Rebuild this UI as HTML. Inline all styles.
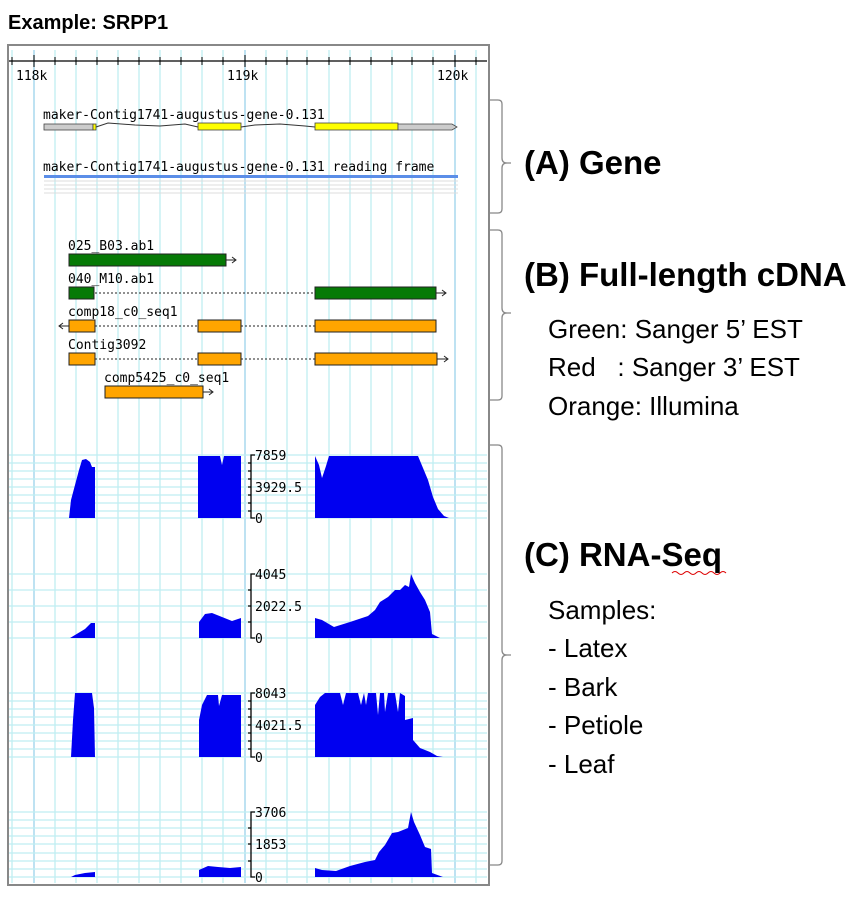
<!DOCTYPE html>
<html><head><meta charset="utf-8"><style>
body{margin:0;background:#fff;width:858px;height:902px;overflow:hidden}
svg{display:block}
.m{font-family:"DejaVu Sans Mono","Liberation Mono",monospace;font-size:13px;fill:#000}
.r{font-family:"Liberation Sans",sans-serif;fill:#000}
</style></head><body>
<svg width="858" height="902" viewBox="0 0 858 902" xmlns="http://www.w3.org/2000/svg">
<text x="8" y="29" class="r" font-size="20" font-weight="bold">Example: SRPP1</text>
<g id="vg" stroke="#bfeef2" stroke-width="1.3">
<line x1="12" y1="50" x2="12" y2="883"/><line x1="55" y1="50" x2="55" y2="883"/><line x1="76" y1="50" x2="76" y2="883"/><line x1="97" y1="50" x2="97" y2="883"/><line x1="118" y1="50" x2="118" y2="883"/><line x1="139" y1="50" x2="139" y2="883"/><line x1="160" y1="50" x2="160" y2="883"/><line x1="181" y1="50" x2="181" y2="883"/><line x1="202" y1="50" x2="202" y2="883"/><line x1="223" y1="50" x2="223" y2="883"/><line x1="266" y1="50" x2="266" y2="883"/><line x1="287" y1="50" x2="287" y2="883"/><line x1="307" y1="50" x2="307" y2="883"/><line x1="329" y1="50" x2="329" y2="883"/><line x1="350" y1="50" x2="350" y2="883"/><line x1="371" y1="50" x2="371" y2="883"/><line x1="392" y1="50" x2="392" y2="883"/><line x1="412" y1="50" x2="412" y2="883"/><line x1="433" y1="50" x2="433" y2="883"/><line x1="476" y1="50" x2="476" y2="883"/>
</g>
<g stroke="#a8d8ee" stroke-width="1.5"><line x1="34" y1="50" x2="34" y2="883"/><line x1="245" y1="50" x2="245" y2="883"/><line x1="455" y1="50" x2="455" y2="883"/></g>
<g stroke="#bfeef2" stroke-width="1.2">
<line x1="8" y1="455" x2="487" y2="455"/><line x1="8" y1="463" x2="487" y2="463"/><line x1="8" y1="471" x2="487" y2="471"/><line x1="8" y1="479" x2="487" y2="479"/><line x1="8" y1="487" x2="487" y2="487"/><line x1="8" y1="495" x2="487" y2="495"/><line x1="8" y1="503" x2="487" y2="503"/><line x1="8" y1="511" x2="487" y2="511"/><line x1="8" y1="518" x2="487" y2="518"/>
<line x1="8" y1="574" x2="487" y2="574"/><line x1="8" y1="590" x2="487" y2="590"/><line x1="8" y1="606" x2="487" y2="606"/><line x1="8" y1="622" x2="487" y2="622"/><line x1="8" y1="638" x2="487" y2="638"/>
<line x1="8" y1="693" x2="487" y2="693"/><line x1="8" y1="701" x2="487" y2="701"/><line x1="8" y1="709" x2="487" y2="709"/><line x1="8" y1="717" x2="487" y2="717"/><line x1="8" y1="725" x2="487" y2="725"/><line x1="8" y1="733" x2="487" y2="733"/><line x1="8" y1="741" x2="487" y2="741"/><line x1="8" y1="749" x2="487" y2="749"/><line x1="8" y1="757" x2="487" y2="757"/>
<line x1="8" y1="812" x2="487" y2="812"/><line x1="8" y1="820" x2="487" y2="820"/><line x1="8" y1="828" x2="487" y2="828"/><line x1="8" y1="836" x2="487" y2="836"/><line x1="8" y1="844" x2="487" y2="844"/><line x1="8" y1="853" x2="487" y2="853"/><line x1="8" y1="861" x2="487" y2="861"/><line x1="8" y1="869" x2="487" y2="869"/><line x1="8" y1="877" x2="487" y2="877"/>
</g>
<rect x="8" y="45" width="481" height="840" fill="none" stroke="#888" stroke-width="2"/>
<line x1="9" y1="61" x2="487" y2="61" stroke="#000" stroke-width="1.3"/>
<g stroke="#000" stroke-width="1">
<line x1="12" y1="57" x2="12" y2="65"/><line x1="34" y1="55" x2="34" y2="67"/><line x1="55" y1="57" x2="55" y2="65"/><line x1="76" y1="57" x2="76" y2="65"/><line x1="97" y1="57" x2="97" y2="65"/><line x1="118" y1="57" x2="118" y2="65"/><line x1="139" y1="57" x2="139" y2="65"/><line x1="160" y1="57" x2="160" y2="65"/><line x1="181" y1="57" x2="181" y2="65"/><line x1="202" y1="57" x2="202" y2="65"/><line x1="223" y1="57" x2="223" y2="65"/><line x1="245" y1="55" x2="245" y2="67"/><line x1="266" y1="57" x2="266" y2="65"/><line x1="287" y1="57" x2="287" y2="65"/><line x1="307" y1="57" x2="307" y2="65"/><line x1="329" y1="57" x2="329" y2="65"/><line x1="350" y1="57" x2="350" y2="65"/><line x1="371" y1="57" x2="371" y2="65"/><line x1="392" y1="57" x2="392" y2="65"/><line x1="412" y1="57" x2="412" y2="65"/><line x1="433" y1="57" x2="433" y2="65"/><line x1="455" y1="55" x2="455" y2="67"/><line x1="476" y1="57" x2="476" y2="65"/>
</g>
<text x="16" y="80" class="m" font-size="14">118k</text><text x="227" y="80" class="m" font-size="14">119k</text><text x="437" y="80" class="m" font-size="14">120k</text>
<text x="43" y="119" class="m">maker-Contig1741-augustus-gene-0.131</text>
<polyline points="96,127 108,123 135,125 160,126 185,124 198,127" fill="none" stroke="#333"/>
<polyline points="241,127 255,125 280,124 305,126 315,127" fill="none" stroke="#333"/>
<rect x="44" y="124" width="49" height="6" fill="#ccc" stroke="#444" stroke-width="0.8"/>
<rect x="93" y="124" width="3" height="6" fill="#ff0" stroke="#444" stroke-width="0.8"/>
<rect x="198" y="123" width="43" height="7" fill="#ff0" stroke="#444" stroke-width="0.8"/>
<rect x="315" y="123" width="83" height="7" fill="#ff0" stroke="#444" stroke-width="0.8"/>
<polygon points="398,124 452,124 457,127 452,130 398,130" fill="#ccc" stroke="#444" stroke-width="0.8"/>
<text x="43" y="171" class="m">maker-Contig1741-augustus-gene-0.131 reading frame</text>
<rect x="44" y="175" width="414" height="3" fill="#5b8ee8"/>
<g stroke="#ddd" stroke-width="1"><line x1="44" y1="181" x2="458" y2="181"/><line x1="44" y1="185" x2="458" y2="185"/><line x1="44" y1="189" x2="458" y2="189"/><line x1="44" y1="193" x2="458" y2="193"/></g>
<g stroke="#222" stroke-width="1" fill="none">
<path d="M226 260H236M232 257L236 260L232 263"/>
<path d="M436 293H446M442 290L446 293L442 296"/>
<path d="M69 326H59M63 323L59 326L63 329"/>
<path d="M437 359H448M444 356L448 359L444 362"/>
<path d="M203 392H213M209 389L213 392L209 395"/>
</g>
<g stroke="#222" stroke-width="1" stroke-dasharray="2,2"><line x1="95" y1="293" x2="315" y2="293"/><line x1="95" y1="326" x2="198" y2="326"/><line x1="241" y1="326" x2="315" y2="326"/><line x1="95" y1="359" x2="198" y2="359"/><line x1="241" y1="359" x2="315" y2="359"/></g>
<text x="68" y="250" class="m">025_B03.ab1</text>
<rect x="69" y="254" width="157" height="12" fill="#067a06" stroke="#222"/>
<text x="68" y="283" class="m">040_M10.ab1</text>
<rect x="69" y="287" width="25" height="12" fill="#067a06" stroke="#222"/>
<rect x="315" y="287" width="121" height="12" fill="#067a06" stroke="#222"/>
<text x="68" y="316" class="m">comp18_c0_seq1</text>
<rect x="69" y="320" width="26" height="12" fill="#ffa500" stroke="#222"/>
<rect x="198" y="320" width="43" height="12" fill="#ffa500" stroke="#222"/>
<rect x="315" y="320" width="121" height="12" fill="#ffa500" stroke="#222"/>
<text x="68" y="349" class="m">Contig3092</text>
<rect x="69" y="353" width="26" height="12" fill="#ffa500" stroke="#222"/>
<rect x="198" y="353" width="43" height="12" fill="#ffa500" stroke="#222"/>
<rect x="315" y="353" width="122" height="12" fill="#ffa500" stroke="#222"/>
<text x="104" y="382" class="m">comp5425_c0_seq1</text>
<rect x="105" y="386" width="98" height="12" fill="#ffa500" stroke="#222"/>
<g fill="#0000f0">
<polygon points="69,518 71,500 75,485 79,470 82,460 86,459 90,462 92,467 95,467 95,518"/>
<polygon points="198,518 198,456 220,456 222,465 224,456 241,456 241,518"/>
<polygon points="315,518 315,456 319,465 322,478 326,466 329,456 418,456 423,468 428,480 433,497 438,509 444,516 449,518"/>
<polygon points="70,638 75,635 85,629 91,623 95,623 95,638"/>
<polygon points="199,638 199,622 205,614 212,613 222,617 232,621 241,618 241,638"/>
<polygon points="315,638 315,618 322,620 334,627 350,622 368,616 375,610 380,602 388,597 395,590 400,590 405,585 409,587 411,574 415,583 420,592 425,600 430,612 432,634 440,638"/>
<polygon points="71,757 73,720 75,693 92,693 94,708 95,757"/>
<polygon points="199,757 199,720 202,705 207,695 218,695 219,706 222,695 241,695 241,757"/>
<polygon points="315,757 315,705 320,697 325,693 340,693 343,705 346,693 358,693 361,705 364,693 366,705 368,693 376,693 378,715 380,693 384,693 385,712 388,693 395,693 398,712 400,693 405,696 405,720 413,718 413,740 420,748 430,752 437,756 443,757"/>
<polygon points="71,877 75,875 85,873 95,872 95,877"/>
<polygon points="199,877 199,870 208,866 218,867 230,868 241,867 241,877"/>
<polygon points="315,877 315,868 322,870 336,871 350,866 365,862 375,860 379,852 385,845 392,833 398,832 403,830 408,828 411,812 414,822 420,835 425,847 431,849 432,873 443,877"/>
</g>
<g stroke="#000" stroke-width="1.3" fill="none">
<path d="M255 455H251V518H255"/><path d="M248 463H251M248 471H251M248 479H251M248 487H251M248 495H251M248 503H251M248 511H251"/>
<path d="M255 574H251V638H255"/><path d="M248 590H251M248 606H251M248 622H251"/>
<path d="M255 693H251V757H255"/><path d="M248 701H251M248 709H251M248 717H251M248 725H251M248 733H251M248 741H251M248 749H251"/>
<path d="M255 812H251V877H255"/><path d="M248 828H251M248 844H251M248 861H251"/>
</g>
<g class="m" font-size="13">
<text x="255" y="460">7859</text><text x="255" y="492">3929.5</text><text x="255" y="523">0</text>
<text x="255" y="579">4045</text><text x="255" y="611">2022.5</text><text x="255" y="643">0</text>
<text x="255" y="698">8043</text><text x="255" y="730">4021.5</text><text x="255" y="762">0</text>
<text x="255" y="817">3706</text><text x="255" y="849">1853</text><text x="255" y="882">0</text>
</g>
<g stroke="#888" stroke-width="1.3" fill="none">
<path d="M489 100H498Q502 100 502 104V158Q502 163 507 163H511M507 163Q502 163 502 168V209Q502 213 498 213H489"/>
<path d="M489 230H498Q502 230 502 234V308Q502 313 507 313H511M507 313Q502 313 502 318V396Q502 400 498 400H489"/>
<path d="M489 445H498Q502 445 502 449V650Q502 655 507 655H511M507 655Q502 655 502 660V861Q502 865 498 865H489"/>
</g>
<g class="r">
<text x="524" y="174" font-size="33" font-weight="bold">(A) Gene</text>
<text x="524" y="286" font-size="33" font-weight="bold">(B) Full-length cDNA</text>
<text x="548" y="338" font-size="26">Green: Sanger 5’ EST</text>
<text x="548" y="376" font-size="26">Red &#160;&#160;: Sanger 3’ EST</text>
<text x="548" y="415" font-size="26">Orange: Illumina</text>
<text x="524" y="566" font-size="33" font-weight="bold">(C) RNA-Seq</text>
<text x="548" y="619" font-size="26">Samples:</text>
<text x="548" y="657" font-size="26">- Latex</text>
<text x="548" y="696" font-size="26">- Bark</text>
<text x="548" y="734" font-size="26">- Petiole</text>
<text x="548" y="773" font-size="26">- Leaf</text>
</g>
<path d="M672 573q3 -3 6 0t6 0t6 0t6 0t6 0t6 0t6 0t6 0t6 0" fill="none" stroke="#d00" stroke-width="1"/>
</svg>
</body></html>
